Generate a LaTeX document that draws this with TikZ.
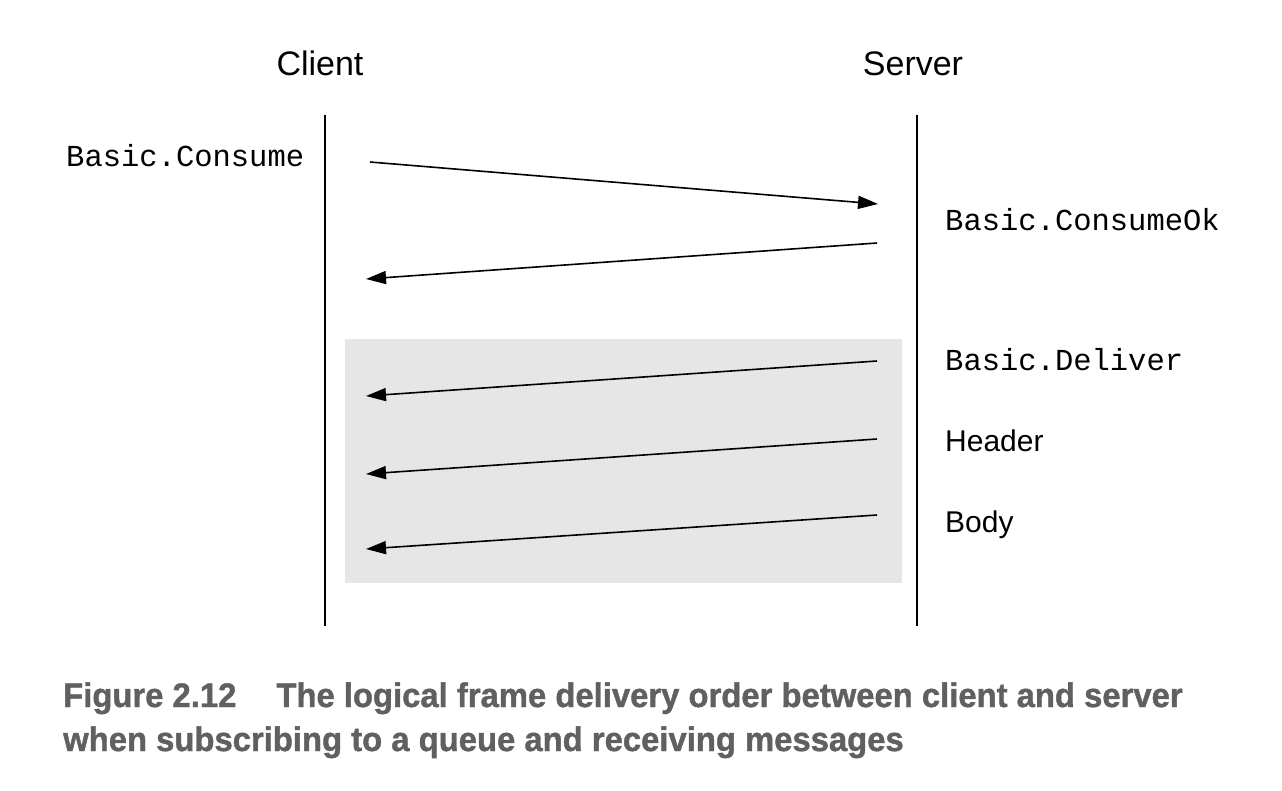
\documentclass[tikz,border=0pt]{standalone}
\usepackage{fontspec}
\setmainfont{Liberation Sans}
\newfontfamily\monofont{Liberation Mono}
\newfontfamily\capfont[FakeStretch=0.965,FakeBold=1.2]{Liberation Sans Bold}
\usetikzlibrary{arrows.meta}
\definecolor{boxgray}{HTML}{E6E6E6}
\definecolor{capgray}{HTML}{606060}
\tikzset{
  msg/.style={line width=1.6pt, -{Triangle[length=20pt,width=13pt]}},
  life/.style={line width=1.8pt},
  head/.style={font=\fontsize{34}{40}\selectfont, anchor=base},
  mlabel/.style={font=\monofont\fontsize{30.5}{34}\selectfont, anchor=base west, inner sep=0pt},
  slabel/.style={font=\fontsize{30}{34}\selectfont, anchor=base west, inner sep=0pt},
  caption/.style={font=\capfont\fontsize{34}{44}\selectfont, text=capgray, anchor=base west, inner sep=0pt}
}
\begin{document}
\begin{tikzpicture}[x=1pt,y=-1pt]
\useasboundingbox (0,0) rectangle (1282,790);
\fill[boxgray] (345,339) rectangle (902,583);
\node[head] (client) at (320,75) {Client};
\node[head] (server) at (913,75) {Server};
\coordinate (ctop) at (325,115); \coordinate (cbot) at (325,626);
\coordinate (stop) at (917,115); \coordinate (sbot) at (917,626);
\draw[life] (ctop) -- (cbot);
\draw[life] (stop) -- (sbot);
\node[mlabel] (consume) at (66,166) {Basic.Consume};
\node[mlabel] (consumeok) at (945,230) {Basic.ConsumeOk};
\node[mlabel] (deliver) at (945,370) {Basic.Deliver};
\node[slabel] (header) at (945,451) {Header};
\node[slabel] (body) at (945,532) {Body};
\coordinate (a1s) at (370,162); \coordinate (a1e) at (878,204);
\coordinate (a2s) at (877,243); \coordinate (a2e) at (366,279);
\coordinate (a3s) at (877,361); \coordinate (a3e) at (366,396);
\coordinate (a4s) at (877,439); \coordinate (a4e) at (366,474);
\coordinate (a5s) at (877,515); \coordinate (a5e) at (366,549);
\draw[msg] (a1s) -- (a1e);
\draw[msg] (a2s) -- (a2e);
\draw[msg] (a3s) -- (a3e);
\draw[msg] (a4s) -- (a4e);
\draw[msg] (a5s) -- (a5e);
\node[caption] (cap1) at (63,707) {Figure 2.12\hspace{40pt}The logical frame delivery order between client and server};
\node[caption] (cap2) at (63,751) {when subscribing to a queue and receiving messages};
\end{tikzpicture}
\end{document}
